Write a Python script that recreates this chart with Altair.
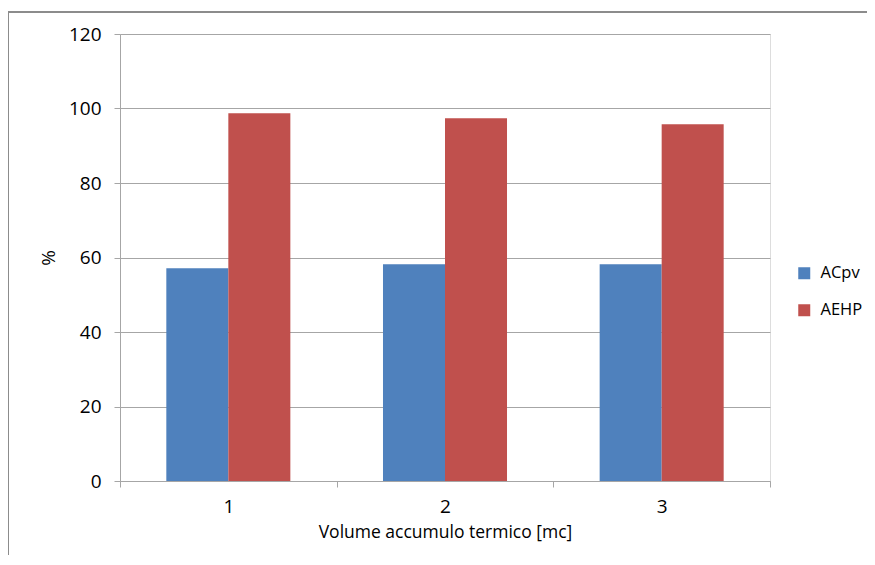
import altair as alt
import pandas as pd

categories = ["1", "2", "3"]
series = ["ACpv", "AEHP"]
acpv = [57.1, 58.2, 58.2]
aehp = [98.7, 97.4, 95.8]

rows = []
for i, c in enumerate(categories):
    rows.append({"cat": c, "serie": "ACpv", "val": acpv[i]})
    rows.append({"cat": c, "serie": "AEHP", "val": aehp[i]})
df = pd.DataFrame(rows)

FONT = "Open Sans"

bars = alt.Chart(df).mark_bar().encode(
    x=alt.X("cat:N", sort=categories,
            scale=alt.Scale(paddingInner=0, paddingOuter=0),
            axis=alt.Axis(title="Volume accumulo termico [mc]", labelAngle=0,
                          tickBand="extent", grid=False, domainColor="#a6a6a6",
                          tickColor="#a6a6a6", tickSize=6, labelFontSize=19,
                          labelColor="#000000", labelPadding=10, titleFontSize=17.5,
                          titleFontWeight="normal", titleColor="#000000",
                          titlePadding=7, labelFont=FONT, titleFont=FONT)),
    xOffset=alt.XOffset("serie:N", sort=series,
                        scale=alt.Scale(paddingInner=0, paddingOuter=0.747)),
    y=alt.Y("val:Q", scale=alt.Scale(domain=[0, 120], nice=False),
            axis=alt.Axis(title="%", values=[0, 20, 40, 60, 80, 100, 120],
                          gridColor="#a6a6a6", domainColor="#a6a6a6",
                          tickColor="#a6a6a6", tickSize=6, labelFontSize=19,
                          labelColor="#000000", labelPadding=13, titleFontSize=19,
                          titleFontWeight="normal", titleColor="#000000",
                          titlePadding=10, labelFont=FONT, titleFont=FONT)),
    color=alt.Color("serie:N", sort=series,
                    scale=alt.Scale(domain=series, range=["#4F81BD", "#C0504D"]),
                    legend=alt.Legend(title=None, orient="none", legendX=676,
                                      legendY=231, symbolType="square",
                                      symbolSize=144, labelFontSize=16.5,
                                      labelFont=FONT, labelColor="#000000",
                                      rowPadding=20, labelOffset=8,
                                      padding=0, symbolStrokeWidth=0)),
)

frame_top = alt.Chart(df).mark_rule(color="#8c8c8c", strokeWidth=2).encode(
    x=alt.value(-112), x2=alt.value(760), y=alt.value(-22))
frame_left = alt.Chart(df).mark_rule(color="#8c8c8c", strokeWidth=2).encode(
    x=alt.value(-112), y=alt.value(-22), y2=alt.value(540))

chart = alt.layer(bars, frame_top, frame_left).properties(
    width=650, height=447,
    autosize=alt.AutoSizeParams(type="none"),
    padding={"left": 112, "top": 26, "right": 97, "bottom": 74},
).configure_view(stroke=None).configure(background="white")

chart.save("out.html", embed_options={"renderer": "svg", "actions": False})
